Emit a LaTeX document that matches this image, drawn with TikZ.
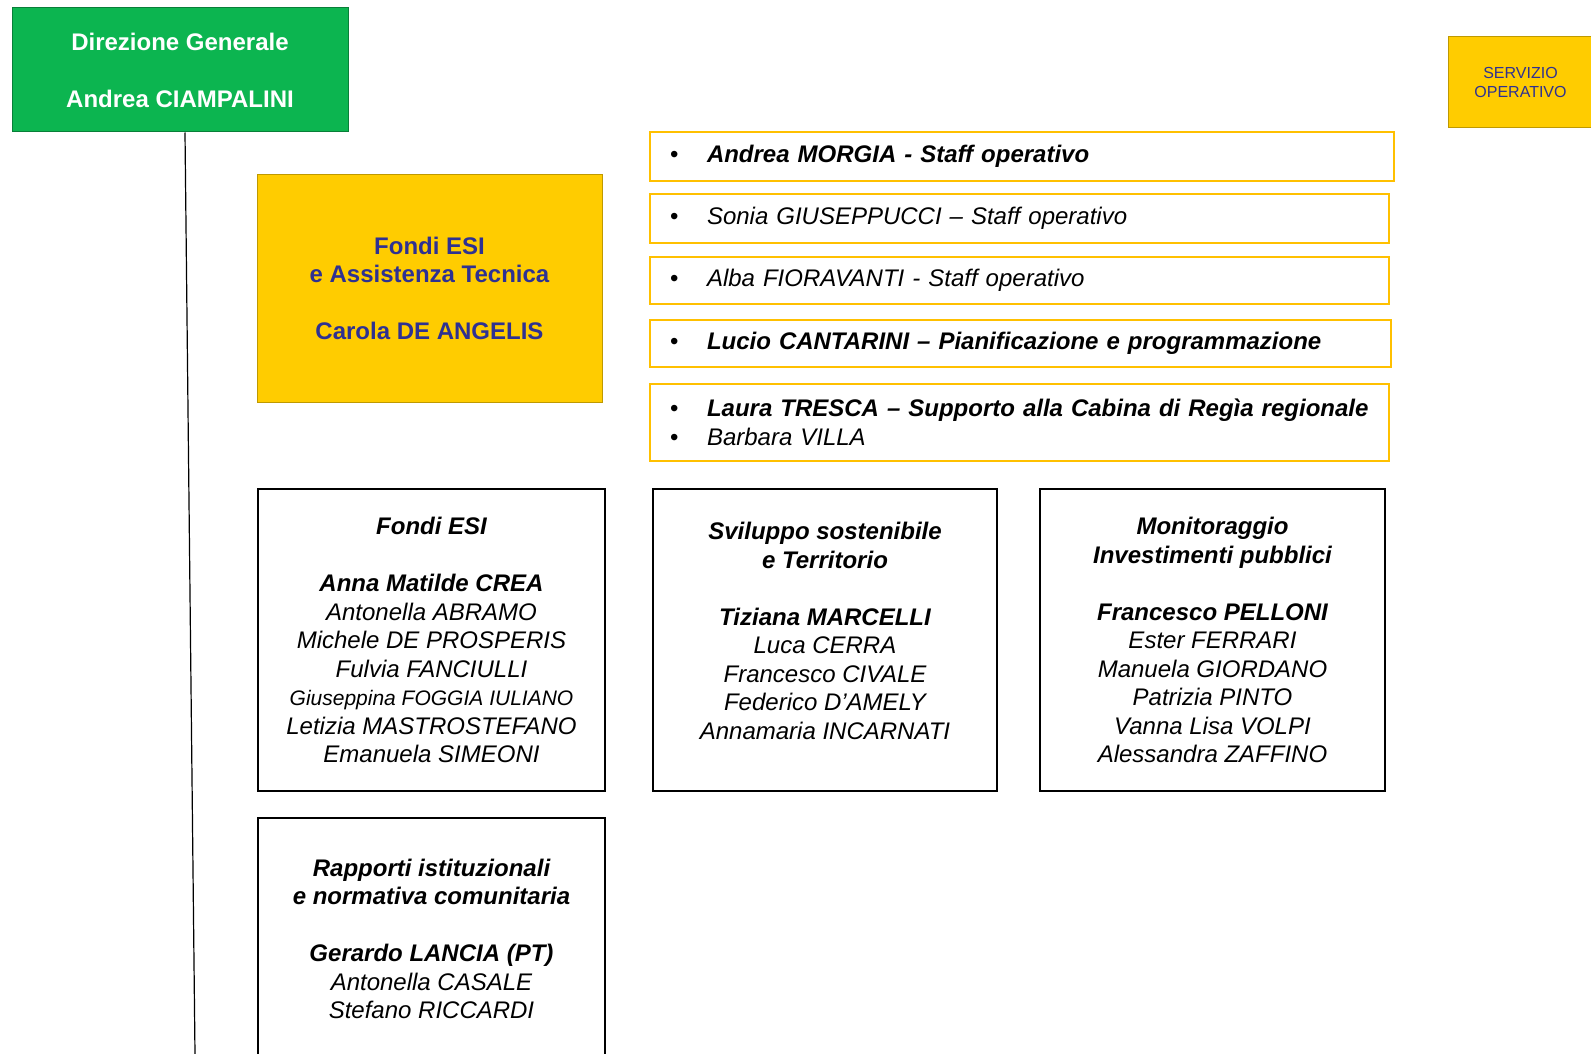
\documentclass[tikz,border=0pt]{standalone}
\usepackage{fontspec}
\setmainfont{Liberation Sans}
\usepackage{xcolor}
\usetikzlibrary{positioning}

\definecolor{dggruen}{RGB}{12,181,80}
\definecolor{gelb}{RGB}{255,204,0}
\definecolor{rahmengelb}{RGB}{255,192,0}
\definecolor{dunkelblau}{RGB}{46,49,146}

% Schriftgroessen
\newcommand\gross{\fontsize{24}{28.5}\selectfont}
\newcommand\klein{\fontsize{16}{19.2}\selectfont}
% Aufzaehlungspunkt in den Staff-Kaesten
\newcommand\punkt{\makebox[37pt][l]{\normalfont\textbullet}}

\tikzset{
    leitung/.style={draw=dggruen!70!black, fill=dggruen, line width=1pt,
        text=white, font=\gross\bfseries, align=center},
    bereich/.style={draw=gelb!75!black, fill=gelb, line width=1pt,
        text=dunkelblau, align=center},
    staffbox/.style={draw=rahmengelb, fill=white, line width=1.5pt,
        align=left, inner xsep=20pt, inner ysep=0pt, font=\gross\itshape},
    teambox/.style={draw=black, fill=white, line width=1.5pt,
        align=center, inner sep=0pt, font=\gross\itshape},
    linie/.style={draw=black, line width=1.2pt}
}

\begin{document}
\begin{tikzpicture}[x=1pt,y=-1pt]
    % Rahmen des Bildes
    \useasboundingbox (0,0) rectangle (1591,1054);
    \clip (0,0) rectangle (1591,1054);

    % Direzione Generale
    \node[leitung, minimum width=336, minimum height=124] (dg) at (180,70)
        {Direzione Generale\\[28.5pt]Andrea CIAMPALINI};

    % Servizio operativo (rechts oben)
    \node[bereich, font=\klein, minimum width=145, minimum height=91] (servizio) at (1520.5,82.5)
        {SERVIZIO\\OPERATIVO};

    % Fondi ESI e Assistenza Tecnica
    \node[bereich, font=\gross\bfseries, minimum width=345, minimum height=227] (fesi) at (429.5,288.5)
        {Fondi ESI\\e Assistenza Tecnica\\[28.5pt]Carola DE ANGELIS};

    % Staff
    \node[staffbox, text width=704, minimum height=49] (staff1) at (1022,156.5)
        {\punkt\textbf{Andrea MORGIA - Staff operativo}};
    \node[staffbox, text width=699, minimum height=49] (staff2) at (1019.5,218.5)
        {\punkt Sonia GIUSEPPUCCI – Staff operativo};
    \node[staffbox, text width=699, minimum height=47] (staff3) at (1019.5,280.5)
        {\punkt Alba FIORAVANTI - Staff operativo};
    \node[staffbox, text width=701, minimum height=47] (staff4) at (1020.5,343.5)
        {\punkt\textbf{Lucio CANTARINI – Pianificazione e programmazione}};
    \node[staffbox, text width=699, minimum height=77] (staff5) at (1019.5,422.5)
        {\punkt\textbf{Laura TRESCA – Supporto alla Cabina di Regìa regionale}\\
         \punkt Barbara VILLA};

    % Uffici
    \node[teambox, minimum width=347, minimum height=302] (fondi) at (431.5,640)
        {\textbf{Fondi ESI}\\[28.5pt]
         \textbf{Anna Matilde CREA}\\
         Antonella ABRAMO\\
         Michele DE PROSPERIS\\
         Fulvia FANCIULLI\\
         {\fontsize{21}{28.5}\selectfont Giuseppina FOGGIA IULIANO}\\
         Letizia MASTROSTEFANO\\
         Emanuela SIMEONI};

    \node[teambox, minimum width=344, minimum height=302] (sviluppo) at (825,640) {};
    \node[align=center, inner sep=0pt, font=\gross\itshape] (sviluppo-text) at ([yshift=9pt]sviluppo.center)
        {\textbf{Sviluppo sostenibile}\\
         \textbf{e Territorio}\\[28.5pt]
         \textbf{Tiziana MARCELLI}\\
         Luca CERRA\\
         Francesco CIVALE\\
         Federico D’AMELY\\
         Annamaria INCARNATI};

    \node[teambox, minimum width=345, minimum height=302] (monitoraggio) at (1212.5,640)
        {\textbf{Monitoraggio}\\
         \textbf{Investimenti pubblici}\\[28.5pt]
         \textbf{Francesco PELLONI}\\
         Ester FERRARI\\
         Manuela GIORDANO\\
         Patrizia PINTO\\
         Vanna Lisa VOLPI\\
         Alessandra ZAFFINO};

    \node[teambox, minimum width=347, minimum height=242] (rapporti) at (431.5,939)
        {\textbf{Rapporti istituzionali}\\
         \textbf{e normativa comunitaria}\\[28.5pt]
         \textbf{Gerardo LANCIA (PT)}\\
         Antonella CASALE\\
         Stefano RICCARDI};

    % Verbindungslinie nach unten
    \coordinate (linie-ende) at (195,1054);
    \draw[linie] ([xshift=5pt]dg.south) -- (linie-ende);
\end{tikzpicture}
\end{document}
